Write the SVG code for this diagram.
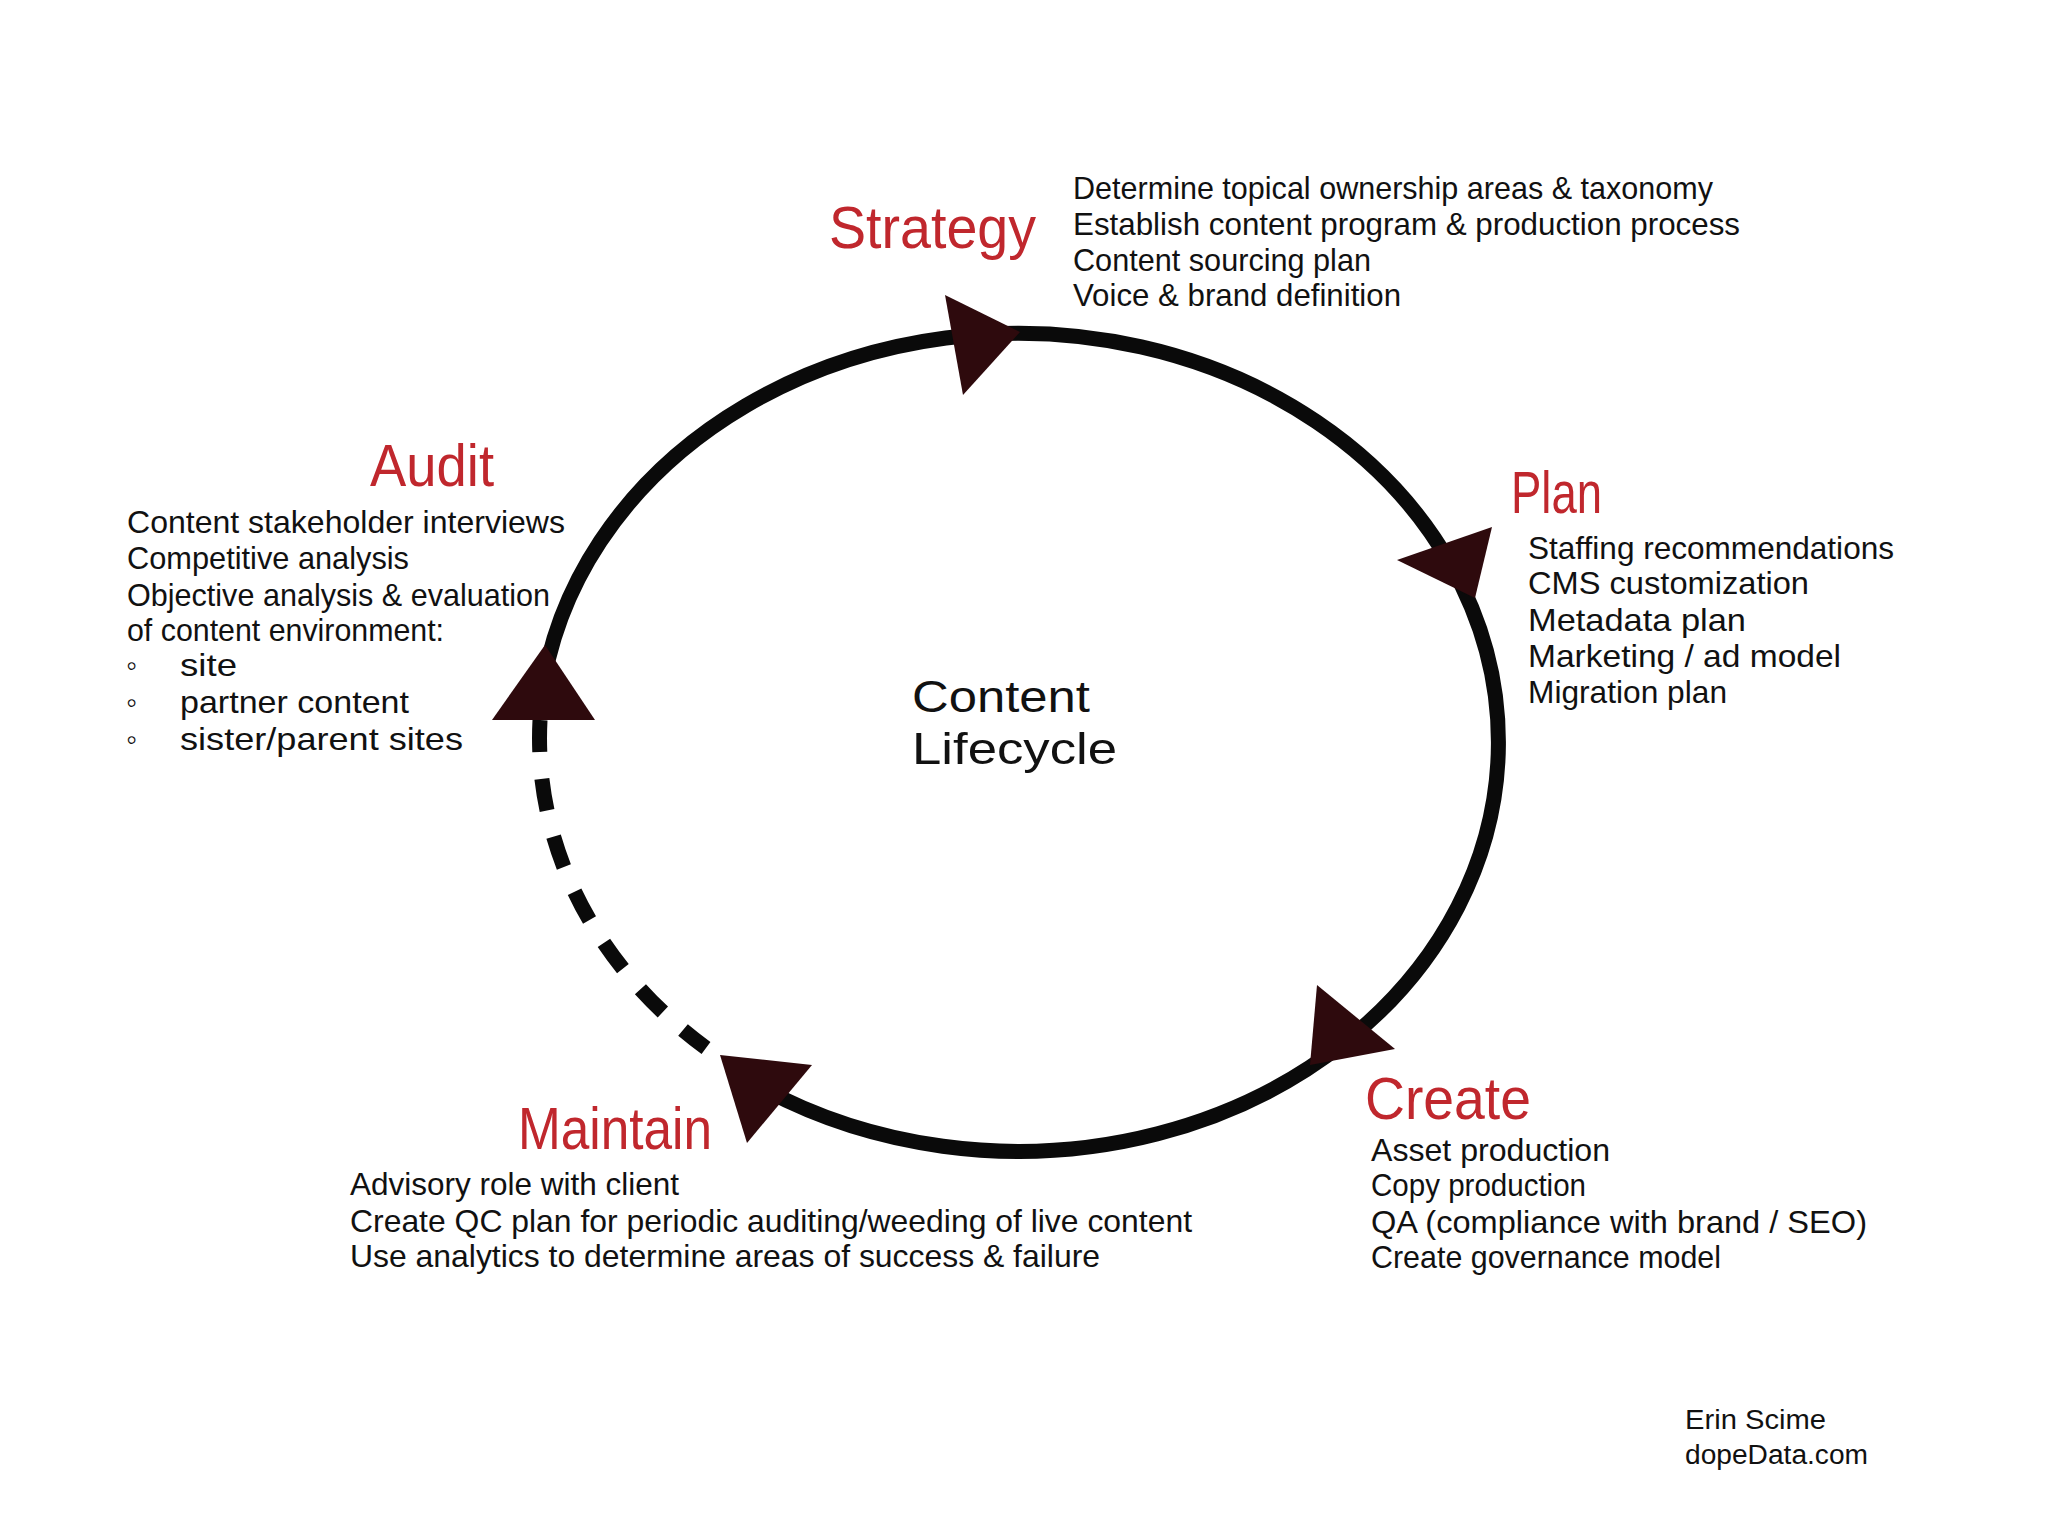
<svg xmlns="http://www.w3.org/2000/svg" width="2048" height="1536" viewBox="0 0 2048 1536">
<style>
.title{font-family:"Liberation Sans Narrow","Liberation Sans","DejaVu Sans Condensed",sans-serif;font-size:60px;fill:#c0272d}
.item{font-family:"Liberation Sans Narrow","Liberation Sans","DejaVu Sans Condensed",sans-serif;font-size:32px;fill:#111111}
.center{font-family:"Liberation Sans Narrow","Liberation Sans",sans-serif;font-size:45px;fill:#111111}
.sig{font-family:"Liberation Sans Narrow","Liberation Sans",sans-serif;font-size:27px;fill:#111111}
.ring{fill:none;stroke:#0a0a0a;stroke-width:15}
.dash{fill:none;stroke:#0a0a0a;stroke-width:15;stroke-dasharray:32 27}
.head{fill:#2e0a0d}
</style>
<rect width="2048" height="1536" fill="#ffffff"/>
<g id="connectors">
<path class="ring" d="M 541 700 A 480 409 0 1 1 760 1087"/>
<path class="dash" d="M 540 720 A 480 409 0 0 0 706 1048"/>
<polygon class="head" points="945,295 1020,332 963,395"/>
<polygon class="head" points="1397,560 1492,527 1475,598"/>
<polygon class="head" points="1317,985 1395,1049 1310,1065"/>
<polygon class="head" points="720,1055 812,1065 747,1143"/>
<polygon class="head" points="545,645 595,720 492,720"/>
</g>
<g id="center">
<text class="center" x="912" y="712" textLength="178" lengthAdjust="spacingAndGlyphs">Content</text>
<text class="center" x="912" y="764" textLength="205" lengthAdjust="spacingAndGlyphs">Lifecycle</text>
</g>
<g id="strategy">
<text class="title" x="829" y="248" textLength="207" lengthAdjust="spacingAndGlyphs">Strategy</text>
<text class="item" x="1073" y="199" textLength="640" lengthAdjust="spacingAndGlyphs">Determine topical ownership areas &amp; taxonomy</text>
<text class="item" x="1073" y="235" textLength="667" lengthAdjust="spacingAndGlyphs">Establish content program &amp; production process</text>
<text class="item" x="1073" y="271" textLength="298" lengthAdjust="spacingAndGlyphs">Content sourcing plan</text>
<text class="item" x="1073" y="306" textLength="328" lengthAdjust="spacingAndGlyphs">Voice &amp; brand definition</text>
</g>
<g id="plan">
<text class="title" x="1511" y="513" textLength="91" lengthAdjust="spacingAndGlyphs">Plan</text>
<text class="item" x="1528" y="559" textLength="366" lengthAdjust="spacingAndGlyphs">Staffing recommendations</text>
<text class="item" x="1528" y="594" textLength="281" lengthAdjust="spacingAndGlyphs">CMS customization</text>
<text class="item" x="1528" y="631" textLength="218" lengthAdjust="spacingAndGlyphs">Metadata plan</text>
<text class="item" x="1528" y="667" textLength="313" lengthAdjust="spacingAndGlyphs">Marketing / ad model</text>
<text class="item" x="1528" y="703" textLength="199" lengthAdjust="spacingAndGlyphs">Migration plan</text>
</g>
<g id="create">
<text class="title" x="1365" y="1119" textLength="166" lengthAdjust="spacingAndGlyphs">Create</text>
<text class="item" x="1371" y="1161" textLength="239" lengthAdjust="spacingAndGlyphs">Asset production</text>
<text class="item" x="1371" y="1196" textLength="215" lengthAdjust="spacingAndGlyphs">Copy production</text>
<text class="item" x="1371" y="1233" textLength="496" lengthAdjust="spacingAndGlyphs">QA (compliance with brand / SEO)</text>
<text class="item" x="1371" y="1268" textLength="350" lengthAdjust="spacingAndGlyphs">Create governance model</text>
</g>
<g id="maintain">
<text class="title" x="518" y="1149" textLength="194" lengthAdjust="spacingAndGlyphs">Maintain</text>
<text class="item" x="350" y="1195" textLength="329" lengthAdjust="spacingAndGlyphs">Advisory role with client</text>
<text class="item" x="350" y="1232" textLength="842" lengthAdjust="spacingAndGlyphs">Create QC plan for periodic auditing/weeding of live content</text>
<text class="item" x="350" y="1267" textLength="750" lengthAdjust="spacingAndGlyphs">Use analytics to determine areas of success &amp; failure</text>
</g>
<g id="audit">
<text class="title" x="370" y="486" textLength="124" lengthAdjust="spacingAndGlyphs">Audit</text>
<text class="item" x="127" y="533" textLength="438" lengthAdjust="spacingAndGlyphs">Content stakeholder interviews</text>
<text class="item" x="127" y="569" textLength="282" lengthAdjust="spacingAndGlyphs">Competitive analysis</text>
<text class="item" x="127" y="606" textLength="423" lengthAdjust="spacingAndGlyphs">Objective analysis &amp; evaluation</text>
<text class="item" x="127" y="641" textLength="317" lengthAdjust="spacingAndGlyphs">of content environment:</text>
<text class="item" x="126" y="676">◦</text>
<text class="item" x="180" y="676" textLength="57" lengthAdjust="spacingAndGlyphs">site</text>
<text class="item" x="126" y="713">◦</text>
<text class="item" x="180" y="713" textLength="229" lengthAdjust="spacingAndGlyphs">partner content</text>
<text class="item" x="126" y="750">◦</text>
<text class="item" x="180" y="750" textLength="283" lengthAdjust="spacingAndGlyphs">sister/parent sites</text>
</g>
<g id="signature">
<text class="sig" x="1685" y="1429" textLength="141" lengthAdjust="spacingAndGlyphs">Erin Scime</text>
<text class="sig" x="1685" y="1464" textLength="183" lengthAdjust="spacingAndGlyphs">dopeData.com</text>
</g>
</svg>
